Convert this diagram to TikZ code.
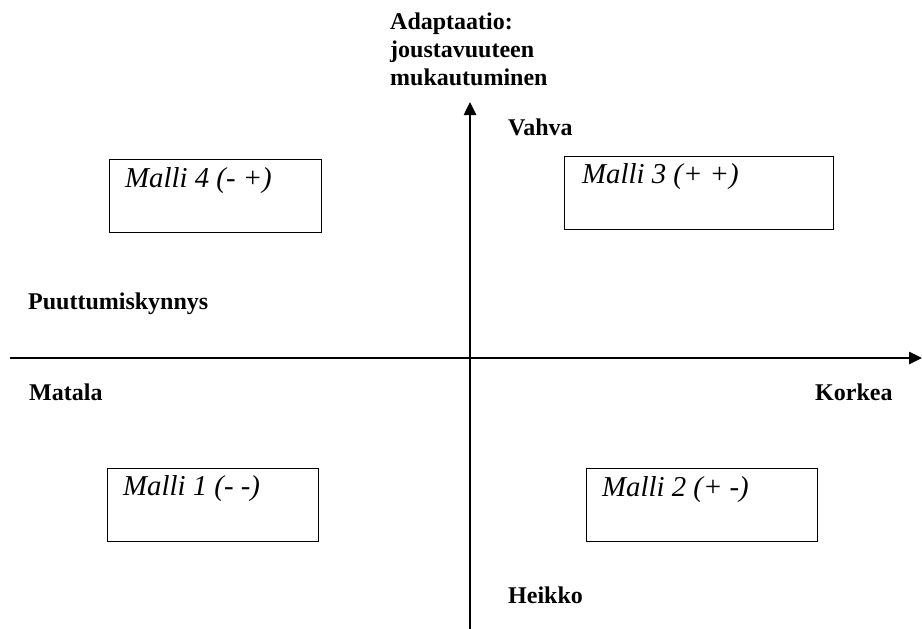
\documentclass[tikz,border=0pt]{standalone}
\usepackage{fontspec}
\setmainfont{Liberation Serif}
\usetikzlibrary{positioning, arrows.meta}
\tikzset{
axis/.style={line width=2.5pt, -{Triangle[length=13pt,width=12pt]}},
modelbox/.style={draw, line width=1pt, rectangle, inner sep=0pt, anchor=north west},
modeltext/.style={inner sep=0pt, anchor=base west, font=\fontsize{28.8}{34}\selectfont\itshape},
axislabel/.style={inner sep=0pt, anchor=base west, font=\fontsize{24}{28}\selectfont\bfseries},
}

\begin{document}
\begin{tikzpicture}[x=1pt, y=-1pt]
    \useasboundingbox (0,0) rectangle (922,629);

    %axis end points
    \coordinate (xleft)   at (10,358);
    \coordinate (xright)  at (922,358);
    \coordinate (ybottom) at (470,629);
    \coordinate (ytop)    at (470,102);

    %axes
    \draw[axis] (xleft)--(xright);
    \draw[axis] (ybottom)--(ytop);

    %axis labels
    \node[axislabel, align=left] (adapt) at (390,85)
        {Adaptaatio:\\joustavuuteen\\mukautuminen};
    \node[axislabel] (strong) at (508,135) {Vahva};
    \node[axislabel] (weak)   at (508,603) {Heikko};
    \node[axislabel] (thresh) at (28,309)  {Puuttumiskynnys};
    \node[axislabel] (low)    at (29,400)  {Matala};
    \node[axislabel] (high)   at (815,400) {Korkea};

    %model boxes
    \node[modelbox, minimum width=212pt, minimum height=73pt] (m4) at (109,159) {};
    \node[modelbox, minimum width=269pt, minimum height=73pt] (m3) at (564,156) {};
    \node[modelbox, minimum width=211pt, minimum height=73pt] (m1) at (107,468) {};
    \node[modelbox, minimum width=231pt, minimum height=73pt] (m2) at (586,468) {};

    %model texts
    \node[modeltext] (t4) at ([shift={(16,28)}]m4.north west) {Malli 4 (- +)};
    \node[modeltext] (t3) at ([shift={(18,27)}]m3.north west) {Malli 3 (+ +)};
    \node[modeltext] (t1) at ([shift={(16,27)}]m1.north west) {Malli 1 (- -)};
    \node[modeltext] (t2) at ([shift={(16,28)}]m2.north west) {Malli 2 (+ -)};

\end{tikzpicture}
\end{document}
